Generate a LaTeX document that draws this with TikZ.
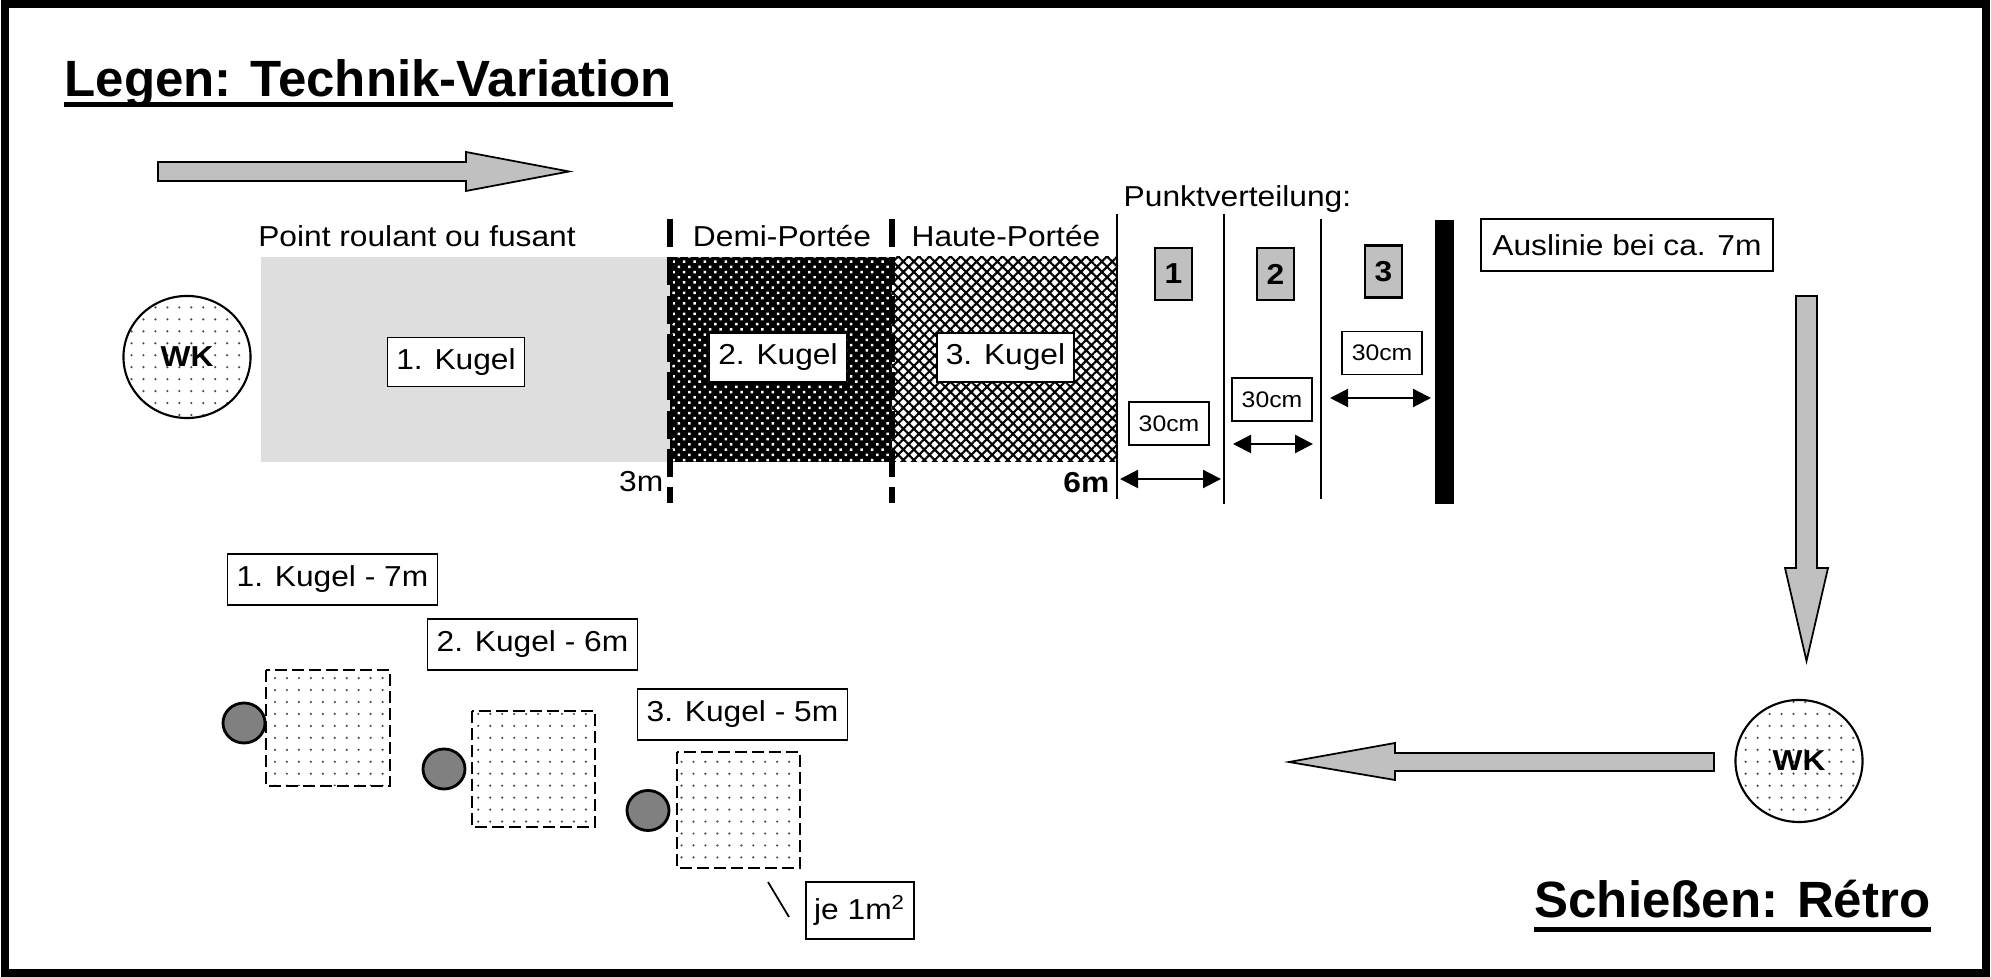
\documentclass[tikz,border=0pt]{standalone}
\usepackage{fontspec}
\setmainfont{Liberation Sans}[FakeStretch=1.1]
\newfontfamily\headfont{Liberation Sans}
\usepackage{tikz}
\usetikzlibrary{arrows.meta,patterns.meta,shapes.geometric}
\definecolor{arrowgray}{HTML}{C0C0C0}
\definecolor{ballgray}{HTML}{808080}
\tikzset{
  txt/.style={font=\fontsize{8.2}{10}\selectfont, inner sep=0pt},
  boldtxt/.style={font=\fontsize{8.2}{10}\selectfont\bfseries, inner sep=0pt},
  headline/.style={font=\headfont\fontsize{14.5}{17}\selectfont\bfseries, inner sep=0pt},
  labelbox/.style={draw, fill=white, line width=0.5pt, inner sep=0pt,
    font=\fontsize{8.2}{10}\selectfont},
  kugelbox/.style={labelbox, minimum width=1.37cm, minimum height=0.49cm},
  wurfbox/.style={labelbox, minimum width=2.1cm, minimum height=0.51cm},
  cmbox/.style={labelbox, minimum width=0.8cm, minimum height=0.43cm,
    font=\fontsize{6.4}{8}\selectfont},
  numbox/.style={draw, fill=arrowgray, line width=0.8pt, inner sep=0pt,
    minimum width=0.37cm, minimum height=0.52cm,
    font=\fontsize{8.2}{10}\selectfont\bfseries},
  wk/.style={draw, ellipse, line width=0.6pt, inner sep=0pt,
    minimum width=1.27cm, minimum height=1.22cm,
    pattern={Dots[distance=3.4pt, radius=0.35pt]}, pattern color=black!70,
    font=\fontsize{8.2}{10}\selectfont\bfseries},
  ball/.style={draw, ellipse, fill=ballgray, line width=0.8pt, inner sep=0pt,
    minimum width=0.42cm, minimum height=0.40cm},
  spread/.style={draw, line width=0.6pt, dash pattern=on 0.12cm off 0.05cm,
    pattern={Dots[distance=3.4pt, radius=0.35pt]}, pattern color=black!70},
  zoneline/.style={line width=0.065cm, dash pattern=on 0.28cm off 0.103cm},
  measure/.style={line width=0.6pt,
    {Triangle[length=0.18cm, width=0.18cm]}-{Triangle[length=0.18cm, width=0.18cm]}},
  blockarrow/.style={draw, fill=arrowgray, line width=0.5pt, line join=miter}
}

\begin{document}
\begin{tikzpicture}[x=0.01cm, y=-0.01cm]
  \useasboundingbox (0,0) rectangle (1991,977);
  \draw[line width=0.08cm] (5,4) rectangle (1986,973);

  % headings
  \node[headline, anchor=base west] (legen) at (64,97) {Legen: Technik-Variation};
  \draw[line width=0.05cm] ([yshift=-0.075cm]legen.base west) -- ([yshift=-0.075cm]legen.base east);
  \node[headline, anchor=base east] (retro) at (1931,918) {Schießen: Rétro};
  \draw[line width=0.05cm] ([yshift=-0.115cm]retro.base west) -- ([yshift=-0.115cm]retro.base east);

  % direction arrows
  \draw[blockarrow] (158,162) -- (466,162) -- (466,152) -- (569,171.5) -- (466,191)
    -- (466,181) -- (158,181) -- cycle;
  \draw[blockarrow] (1796,296) -- (1817,296) -- (1817,568) -- (1828,568) -- (1806.5,661)
    -- (1785,568) -- (1796,568) -- cycle;
  \draw[blockarrow] (1714,753) -- (1395,753) -- (1395,743) -- (1289,762) -- (1395,780)
    -- (1395,771) -- (1714,771) -- cycle;

  % zones
  \fill[black!13] (261,257) rectangle (670,462);
  \fill[black] (670,257) rectangle (892,462);
  \fill[pattern={Dots[distance=2.1pt, radius=0.5pt, angle=45]}, pattern color=white]
    (670,257) rectangle (892,462);
  \fill[pattern={Hatch[distance=2.1pt, angle=45, line width=0.6pt]}]
    (892,257) rectangle (1117,462);
  \draw[zoneline] (670,219) -- (670,503);
  \draw[zoneline] (892,219) -- (892,503);

  \node[txt, anchor=base] (roulant) at (417,247) {Point roulant ou fusant};
  \node[txt, anchor=base] (demi) at (782,247) {Demi-Portée};
  \node[txt, anchor=base] (haute) at (1006,247) {Haute-Portée};
  \node[txt, anchor=base east] (dreim) at (664,492) {3m};
  \node[boldtxt, anchor=base east] (sechsm) at (1110,493) {6m};

  \node[kugelbox] (kA) at (456,362) {1. Kugel};
  \node[kugelbox] (kB) at (778,357.5) {2. Kugel};
  \node[kugelbox] (kC) at (1005.5,357.5) {3. Kugel};

  \node[wk] (wkA) at (187,357) {WK};
  \node[wk] (wkB) at (1799,761) {WK};

  % Punktverteilung
  \node[txt, anchor=base west] (punkt) at (1123,207) {Punktverteilung:};
  \coordinate (lA) at (1117,214);
  \coordinate (lB) at (1224,214);
  \coordinate (lC) at (1321,219);
  \draw[line width=0.5pt] (lA) -- (1117,499);
  \draw[line width=0.5pt] (lB) -- (1224,504);
  \draw[line width=0.5pt] (lC) -- (1321,499);
  \fill (1435,220) rectangle (1454,504); % Auslinie

  \node[numbox] (nA) at (1173.5,274) {1};
  \node[numbox] (nB) at (1275.5,274) {2};
  \node[numbox] (nC) at (1383.5,271.5) {3};

  \node[cmbox] (cA) at (1169,423.5) {30cm};
  \node[cmbox] (cB) at (1272,399.5) {30cm};
  \node[cmbox] (cC) at (1382,353) {30cm};

  \coordinate (mA1) at (1120,479);  \coordinate (mA2) at (1221,479);
  \coordinate (mB1) at (1233,444);  \coordinate (mB2) at (1313,444);
  \coordinate (mC1) at (1330,398);  \coordinate (mC2) at (1431,398);
  \draw[measure] (mA1) -- (mA2);
  \draw[measure] (mB1) -- (mB2);
  \draw[measure] (mC1) -- (mC2);

  \node[labelbox, minimum width=2.92cm, minimum height=0.52cm] (aus) at (1627,245)
    {Auslinie bei ca. 7m};

  % Schiessen: targets
  \node[wurfbox] (wA) at (332.5,579.5) {1. Kugel - 7m};
  \node[wurfbox] (wB) at (532.5,644.5) {2. Kugel - 6m};
  \node[wurfbox] (wC) at (742.5,714.5) {3. Kugel - 5m};

  \draw[spread] (266,670) rectangle (390,786);
  \draw[spread] (472,711) rectangle (595,827);
  \draw[spread] (677,752) rectangle (800,868);

  \node[ball] (bA) at (244,723) {};
  \node[ball] (bB) at (444,769) {};
  \node[ball] (bC) at (648,810.5) {};

  \node[labelbox, minimum width=1.08cm, minimum height=0.57cm] (je) at (860,910.5)
    {je 1m\textsuperscript{2}};
  \coordinate (jeA) at (768,882);
  \coordinate (jeB) at (789,917);
  \draw[line width=0.5pt] (jeA) -- (jeB);
\end{tikzpicture}
\end{document}
